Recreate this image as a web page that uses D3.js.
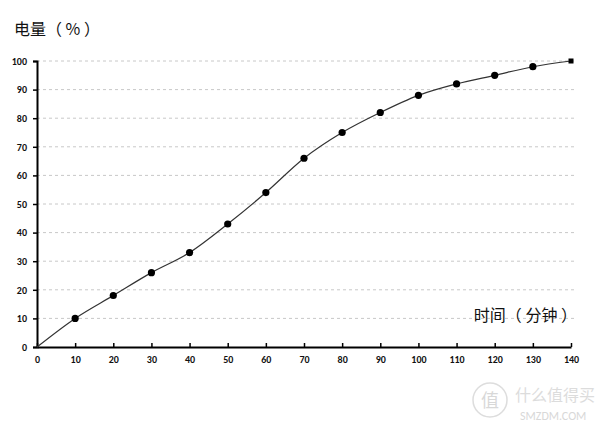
<!DOCTYPE html>
<html><head><meta charset="utf-8">
<script src="https://cdn.jsdelivr.net/npm/d3@7"></script>
<style>body{margin:0;background:#fff}svg{display:block}</style>
</head><body>
<svg id="c" width="600" height="431"></svg>
<script>
const times = [0,10,20,30,40,50,60,70,80,90,100,110,120,130,140];
const charge = [0,10,18,26,33,43,54,66,75,82,88,92,95,98,100];
const xTicks = [0,10,20,30,40,50,60,70,80,90,100,110,120,130,140];
const yTicks = [0,10,20,30,40,50,60,70,80,90,100];
const yTitle = "电量（ % ）";
const xTitle = "时间（ 分钟 ）";

const svg = d3.select("#c");
const x = d3.scaleLinear().domain([0,140]).range([37,571]);
const y = d3.scaleLinear().domain([0,100]).range([347,61]);
const font = "Calibri, Carlito, 'Liberation Sans', Arial, sans-serif";

// grid
svg.append("g").selectAll("line").data(yTicks.filter(d=>d>0)).join("line")
  .attr("x1",x(0)).attr("x2",575).attr("y1",d=>y(d)).attr("y2",d=>y(d))
  .attr("stroke","#c8c8c8").attr("stroke-width",1).attr("stroke-dasharray","3,3");

// y axis
const ya = svg.append("g").attr("transform",`translate(${x(0)},0)`)
  .call(d3.axisLeft(y).tickValues(yTicks).tickSize(4).tickPadding(6));
ya.select(".domain").attr("stroke","#000").attr("stroke-width",2);
ya.selectAll(".tick line").attr("stroke","#000").attr("stroke-width",1.5);
ya.selectAll("text").attr("font-family",font).attr("font-weight","bold").attr("font-size",10).attr("fill","#111");

// x axis
const xa = svg.append("g").attr("transform",`translate(0,${y(0)})`)
  .call(d3.axisBottom(x).tickValues(xTicks).tickSizeInner(-4).tickSizeOuter(0).tickPadding(9));
xa.select(".domain").attr("stroke","#000").attr("stroke-width",2);
xa.selectAll(".tick line").attr("stroke","#000").attr("stroke-width",1.5);
xa.selectAll("text").attr("font-family",font).attr("font-weight","bold").attr("font-size",10).attr("fill","#111");

// line
const pts = times.map((t,i)=>[t,charge[i]]);
svg.append("path").datum(pts)
  .attr("d", d3.line().x(d=>x(d[0])).y(d=>y(d[1])).curve(d3.curveMonotoneX))
  .attr("fill","none").attr("stroke","#333").attr("stroke-width",1.2);

// markers
svg.append("g").selectAll("circle").data(pts.slice(1,-1)).join("circle")
  .attr("cx",d=>x(d[0])).attr("cy",d=>y(d[1])).attr("r",3.6).attr("fill","#000");
const last = pts[pts.length-1];
svg.append("rect").attr("x",x(last[0])-2.5).attr("y",y(last[1])-2.5).attr("width",5).attr("height",5).attr("fill","#000");

// titles
svg.append("text").attr("x",14).attr("y",35).text(yTitle)
  .attr("font-family","'Noto Sans CJK SC', sans-serif").attr("font-size",16).attr("fill","#111");
svg.append("text").attr("x",577).attr("y",321).attr("text-anchor","end").text(xTitle)
  .attr("font-family","'Noto Sans CJK SC', sans-serif").attr("font-size",16).attr("fill","#111");

// watermark
svg.append("circle").attr("cx",490).attr("cy",400).attr("r",17).attr("fill","none").attr("stroke","#ddd").attr("stroke-width",1.5);
svg.append("text").attr("x",490).attr("y",407).attr("text-anchor","middle").text("值")
  .attr("font-family","'Noto Sans CJK SC', sans-serif").attr("font-size",18).attr("fill","#d8d8d8");
svg.append("text").attr("x",515).attr("y",401).text("什么值得买")
  .attr("font-family","'Noto Sans CJK SC', sans-serif").attr("font-size",16).attr("fill","#dcdcdc");
svg.append("text").attr("x",520).attr("y",420).text("SMZDM.COM")
  .attr("font-family",font).attr("font-size",12).attr("fill","#d8d8d8");
</script>
</body></html>
